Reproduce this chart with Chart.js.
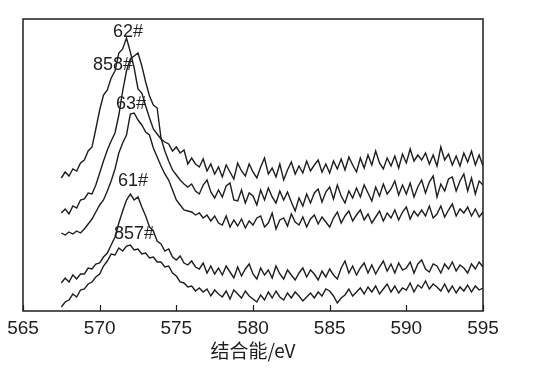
<!DOCTYPE html>
<html><head><meta charset="utf-8">
<script src="https://cdn.jsdelivr.net/npm/chart.js@4/dist/chart.umd.min.js"></script>
<style>html,body{margin:0;padding:0;background:#fff}#wrap{width:536px;height:375px}</style>
</head><body><div id="wrap"><canvas id="c" width="536" height="375"></canvas></div>
<script>
// Binding energy (eV)
const energy = [
  567.5, 567.75,
  568, 568.25, 568.5, 568.75,  569, 569.25, 569.5, 569.75,
  570, 570.25, 570.5, 570.75,  571, 571.25, 571.5, 571.75,
  572, 572.25, 572.5, 572.75,  573, 573.25, 573.5, 573.75,
  574, 574.25, 574.5, 574.75,  575, 575.25, 575.5, 575.75,
  576, 576.25, 576.5, 576.75,  577, 577.25, 577.5, 577.75,
  578, 578.25, 578.5, 578.75,  579, 579.25, 579.5, 579.75,
  580, 580.25, 580.5, 580.75,  581, 581.25, 581.5, 581.75,
  582, 582.25, 582.5, 582.75,  583, 583.25, 583.5, 583.75,
  584, 584.25, 584.5, 584.75,  585, 585.25, 585.5, 585.75,
  586, 586.25, 586.5, 586.75,  587, 587.25, 587.5, 587.75,
  588, 588.25, 588.5, 588.75,  589, 589.25, 589.5, 589.75,
  590, 590.25, 590.5, 590.75,  591, 591.25, 591.5, 591.75,
  592, 592.25, 592.5, 592.75,  593, 593.25, 593.5, 593.75,
  594, 594.25, 594.5, 594.75,
  595
];
// Intensity (arbitrary units, offset spectra)
const s62 = [
  133, 139,
  135, 142, 140, 148,  151, 160, 164, 182,
  201, 216, 221, 233,  240, 258, 262, 273,
  259, 243, 222, 218,  205, 193, 182, 177,
  172, 169, 167, 160,  164, 158, 161, 147,
  153, 147, 144, 152,  140, 147, 137, 144,
  134, 146, 139, 132,  148, 140, 135, 147,
  139, 133, 144, 153,  137, 143, 134, 147,
  131, 141, 149, 137,  145, 138, 150, 140,
  146, 151, 139, 147,  138, 150, 142, 152,
  141, 154, 146, 139,  153, 143, 156, 146,
  160, 148, 142, 153,  145, 155, 143, 157,
  148, 162, 150, 156,  151, 158, 147, 156,
  145, 164, 151, 157,  146, 155, 145, 158,
  149, 160, 146, 156,
  145
];
const s858 = [
  98, 102,
  97, 105, 103, 111,  112, 118, 117, 126,
  138, 150, 161, 170,  178, 196, 220, 240,
  252, 255, 258, 245,  229, 215, 206, 203,
  173, 160, 150, 141,  136, 131, 127, 124,
  127, 120, 117, 126,  131, 119, 113, 121,
  114, 125, 128, 111,  110, 121, 108, 118,
  115, 106, 121, 111,  123, 114, 108, 120,
  111, 119, 109, 100,  113, 105, 117, 108,
  118, 122, 109, 119,  124, 112, 126, 115,
  108, 120, 113, 123,  114, 126, 118, 110,
  124, 115, 127, 117,  122, 130, 116, 126,
  117, 128, 114, 124,  131, 118, 129, 135,
  114, 127, 120, 132,  134, 120, 130, 137,
  120, 133, 117, 130,
  126
];
const s63 = [
  78, 76,
  79, 77, 80, 78,  82, 87, 92, 99,
  106, 111, 120, 130,  142, 158, 168, 176,
  197, 198, 191, 186,  179, 176, 163, 154,
  145, 137, 131, 121,  111, 106, 101, 100,
  99, 96, 98, 93,  96, 90, 95, 88,
  86, 95, 84, 91,  85, 92, 83, 90,
  86, 93, 95, 84,  88, 98, 82, 91,
  93, 85, 97, 89,  86, 94, 84, 92,
  96, 87, 94, 89,  84, 93, 99, 88,
  95, 100, 90, 96,  101, 91, 97, 88,
  94, 100, 90, 98,  93, 101, 91, 99,
  104, 92, 100, 95,  101, 95, 105, 93,
  97, 105, 94, 101,  107, 95, 102, 98,
  104, 95, 102, 94,
  99
];
const s61 = [
  28, 33,
  29, 36, 32, 37,  37, 43, 42, 47,
  48, 54, 58, 66,  74, 88, 100, 111,
  117, 111, 114, 104,  95, 84, 80, 70,
  67, 60, 62, 54,  51, 55, 48, 46,
  50, 44, 42, 48,  38, 45, 37, 43,
  36, 45, 39, 33,  44, 35, 42, 47,
  37, 32, 43, 36,  41, 33, 45, 37,
  32, 41, 36, 31,  38, 43, 34, 41,
  37, 31, 40, 34,  42, 36, 32, 43,
  50, 38, 45, 36,  43, 48, 38, 46,
  37, 44, 50, 40,  47, 38, 48, 41,
  43, 49, 38, 47,  51, 42, 39, 47,
  45, 38, 47, 42,  49, 40, 46, 43,
  38, 47, 42, 49,
  44
];
const s857 = [
  4, 9,
  11, 17, 14, 21,  22, 27, 29, 34,
  37, 45, 50, 57,  56, 63, 60, 65,
  66, 61, 62, 57,  58, 53, 54, 49,
  49, 44, 45, 38,  35, 29, 28, 24,
  25, 20, 23, 19,  22, 15, 21, 17,
  14, 20, 12, 21,  17, 13, 20, 15,
  12, 9, 16, 11,  19, 13, 20, 14,
  11, 18, 13, 19,  15, 10, 14, 18,
  13, 19, 15, 22,  20, 15, 8, 13,
  16, 22, 15, 19,  23, 17, 24, 19,
  25, 17, 22, 27,  19, 25, 18, 23,
  21, 28, 19, 26,  23, 30, 22, 27,
  24, 20, 27, 19,  25, 18, 24, 20,
  26, 19, 25, 21,
  23
];
const seriesNames = ['62#', '858#', '63#', '61#', '857#'];
const seriesValues = [s62, s858, s63, s61, s857];
// label anchor (eV, intensity)
const labelEV = [571.85, 570.87, 572.04, 572.17, 572.24];
const labelI = [279, 246, 206.5, 130, 77];
const xTicks = [565, 570, 575, 580, 585, 590, 595];
const xTitle = '结合能/eV';

const INK = '#1e1e1e';
const latin = '"Liberation Sans", Arial, sans-serif';

const framePlugin = {
  id: 'frame',
  afterDraw(chart) {
    const {ctx, chartArea: a, scales: {x, y}} = chart;
    ctx.save();
    ctx.strokeStyle = INK;
    ctx.lineWidth = 1.5;
    ctx.strokeRect(a.left, a.top, a.right - a.left, a.bottom - a.top);
    ctx.lineWidth = 1.2;
    xTicks.forEach(v => {
      const px = Math.round(x.getPixelForValue(v)) + 0.5;
      ctx.beginPath(); ctx.moveTo(px, a.bottom); ctx.lineTo(px, a.bottom - 6); ctx.stroke();
    });
    ctx.fillStyle = INK;
    ctx.font = '18px ' + latin;
    ctx.textAlign = 'center';
    ctx.textBaseline = 'middle';
    seriesNames.forEach((n, i) => ctx.fillText(n, x.getPixelForValue(labelEV[i]), y.getPixelForValue(labelI[i])));
    ctx.restore();
  }
};

new Chart(document.getElementById('c'), {
  type: 'line',
  data: {
    datasets: seriesValues.map((vals, k) => ({
      label: seriesNames[k],
      data: energy.map((e, i) => ({x: e, y: vals[i]})),
      borderColor: INK,
      borderWidth: 1.4,
      pointRadius: 0,
      tension: 0,
      fill: false
    }))
  },
  options: {
    responsive: false,
    animation: false,
    devicePixelRatio: 1,
    layout: {padding: {left: 23, right: 53, top: 19, bottom: 0}},
    plugins: {legend: {display: false}, tooltip: {enabled: false}},
    scales: {
      x: {
        type: 'linear', min: 565, max: 595,
        grid: {display: false, drawTicks: false, tickLength: 0}, border: {display: false},
        afterBuildTicks(s) { s.ticks = xTicks.map(v => ({value: v})); },
        ticks: {color: INK, font: {family: latin, size: 19}, padding: 6, maxRotation: 0, autoSkip: false},
        title: {display: true, text: xTitle, color: INK,
          font: {family: '"Noto Sans CJK SC", "Liberation Sans", sans-serif', size: 19},
          padding: {top: 0, bottom: 13}},
        afterFit(s) { s.height = 64; }
      },
      y: {display: false, min: 0, max: 292}
    }
  },
  plugins: [framePlugin]
});
</script>
</body></html>
